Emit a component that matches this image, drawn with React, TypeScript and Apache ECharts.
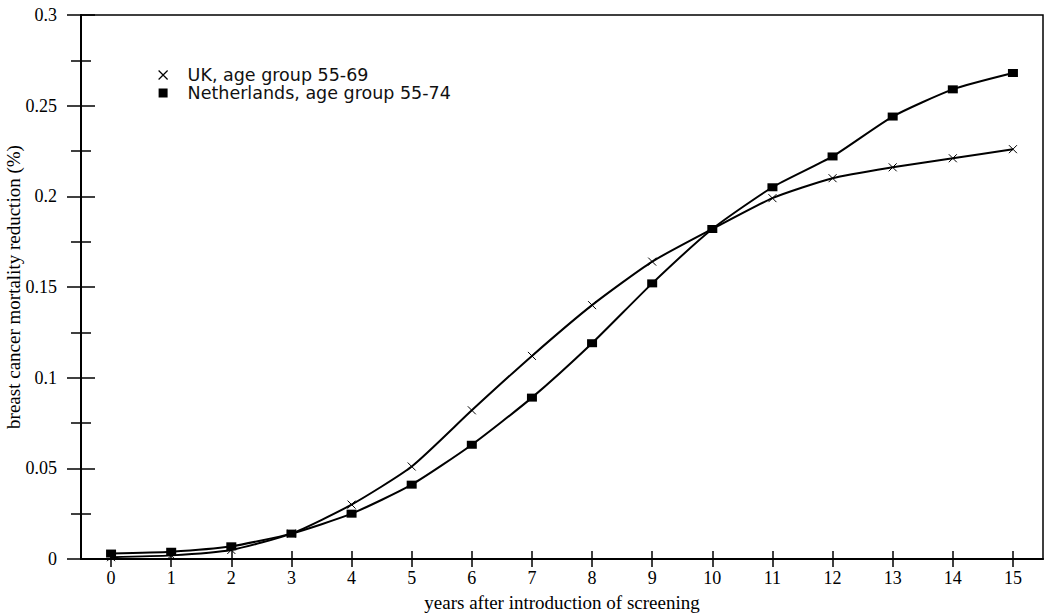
import React, { useEffect, useRef } from "react";
import * as echarts from "echarts";

const years = ["0", "1", "2", "3", "4", "5", "6", "7", "8", "9", "10", "11", "12", "13", "14", "15"];
const ukValues = [0.001, 0.002, 0.005, 0.014, 0.030, 0.051, 0.082, 0.112, 0.140, 0.164, 0.182, 0.199, 0.210, 0.216, 0.221, 0.226];
const nlValues = [0.003, 0.004, 0.007, 0.014, 0.025, 0.041, 0.063, 0.089, 0.119, 0.152, 0.182, 0.205, 0.222, 0.244, 0.259, 0.268];
const ukName = "UK, age group 55-69";
const nlName = "Netherlands, age group 55-74";
const xTitle = "years after introduction of screening";
const yTitle = "breast cancer mortality reduction (%)";

const CROSS = "path://M0,0L10,10M10,0L0,10";
const SERIF = "'Liberation Serif', 'Times New Roman', serif";

export default function App() {
  const ref = useRef<HTMLDivElement>(null);
  useEffect(() => {
    if (!ref.current) return;
    const chart = echarts.init(ref.current, undefined, { renderer: "svg" });
    const yCommon = {
      type: "value",
      min: 0,
      max: 0.3,
      interval: 0.05,
      splitLine: { show: false },
      minorTick: { show: true, splitNumber: 2, length: 10, lineStyle: { color: "#000", width: 1.5 } },
    };
    const xCommon = {
      type: "category",
      data: years,
      boundaryGap: true,
      splitLine: { show: false },
    };
    chart.setOption({
      animation: false,
      backgroundColor: "#fff",
      grid: {
        left: 81,
        right: 3,
        top: 15,
        bottom: 56,
        show: true,
        borderColor: "#000",
        borderWidth: 1.5,
        outerBoundsMode: "none",
        containLabel: false,
      },
      legend: {
        left: 153,
        top: 61,
        orient: "vertical",
        itemGap: 0,
        itemWidth: 9,
        itemHeight: 9,
        textStyle: {
          fontFamily: "'DejaVu Sans', sans-serif",
          fontSize: 17.5,
          lineHeight: 18,
          color: "#111",
          padding: [0, 0, 0, 15],
        },
        data: [
          { name: ukName, icon: CROSS, itemStyle: { color: "#000", borderColor: "#000", borderWidth: 1.2 } },
          { name: nlName, icon: "rect", itemStyle: { color: "#000", borderWidth: 0 } },
        ],
      },
      xAxis: [
        {
          ...xCommon,
          name: xTitle,
          nameLocation: "middle",
          nameGap: 34,
          nameMoveOverlap: false,
          nameTextStyle: { fontFamily: SERIF, fontSize: 19, color: "#000" },
          axisLine: { show: true, lineStyle: { color: "#000", width: 2 } },
          axisTick: { show: true, alignWithLabel: true, length: 8, lineStyle: { color: "#000", width: 1.5 } },
          axisLabel: { fontFamily: SERIF, fontSize: 18, color: "#000", margin: 10 },
        },
        {
          ...xCommon,
          position: "bottom",
          axisLine: { show: false },
          axisTick: { show: true, inside: true, alignWithLabel: true, length: 8, lineStyle: { color: "#000", width: 1.5 } },
          axisLabel: { show: false },
        },
      ],
      yAxis: [
        {
          ...yCommon,
          name: yTitle,
          nameLocation: "middle",
          nameGap: 58,
          nameMoveOverlap: false,
          nameTextStyle: { fontFamily: SERIF, fontSize: 19, color: "#000" },
          axisLine: { show: true, lineStyle: { color: "#000", width: 2 } },
          axisTick: { show: true, length: 14, lineStyle: { color: "#000", width: 1.5 } },
          axisLabel: { fontFamily: SERIF, fontSize: 18, color: "#000", margin: 24 },
        },
        {
          ...yCommon,
          position: "left",
          axisLine: { show: false },
          axisTick: { show: true, inside: true, length: 14, lineStyle: { color: "#000", width: 1.5 } },
          minorTick: { show: true, splitNumber: 2, length: 10, lineStyle: { color: "#000", width: 1.5 } },
          axisLabel: { show: false },
        },
      ],
      series: [
        {
          name: ukName,
          type: "line",
          data: ukValues,
          smooth: 0.2,
          symbol: CROSS,
          symbolSize: 8,
          lineStyle: { color: "#000", width: 2 },
          itemStyle: { color: "#000", borderColor: "#000", borderWidth: 1 },
          z: 3,
        },
        {
          name: nlName,
          type: "line",
          data: nlValues,
          smooth: 0.2,
          symbol: "rect",
          symbolSize: [10, 8],
          lineStyle: { color: "#000", width: 2 },
          itemStyle: { color: "#000", borderWidth: 0 },
          z: 4,
        },
      ],
    });
    return () => chart.dispose();
  }, []);
  return (
    <div
      ref={ref}
      style={{ position: "absolute", left: 0, top: 0, width: 1046, height: 615, background: "#fff" }}
    />
  );
}
